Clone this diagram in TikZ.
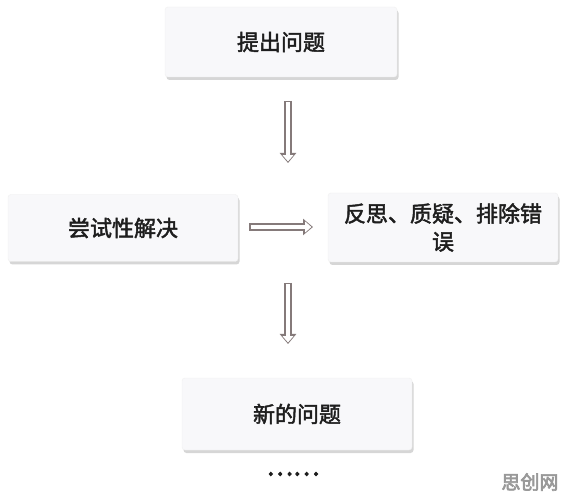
\documentclass[tikz,border=0pt]{standalone}
\usepackage{fontspec}
\newfontfamily\cjk{Noto Sans CJK SC}[FakeBold=2]
\newfontfamily\cjkwm{Noto Sans CJK SC}[FakeBold=3.5]
\usetikzlibrary{shadows,arrows.meta}
\definecolor{boxfill}{HTML}{F8F8FA}
\definecolor{arrowcol}{HTML}{857A7A}
\definecolor{txt}{HTML}{1E1E1E}
\tikzset{
  stepbox/.style={rectangle, rounded corners=3pt, fill=boxfill, draw=black!6,
    drop shadow={shadow xshift=1.5pt, shadow yshift=-3pt, fill=black!35, opacity=0.45},
    font=\cjk\fontsize{22}{28}\selectfont, text=txt, align=center, inner sep=0pt},
  arrowouter/.style={draw=arrowcol, fill=arrowcol, line width=7.5pt,
    -{Triangle[length=10pt, width=16pt]}},
  arrowinner/.style={draw=white, fill=white, line width=4.5pt, shorten <=1.5pt, shorten >=1.6pt,
    -{Triangle[length=6.2pt, width=10.5pt]}},
}
\begin{document}
\begin{tikzpicture}[x=1pt,y=-1pt]
\useasboundingbox[fill=white] (0,0) rectangle (570,502);
\node[stepbox, minimum width=232pt, minimum height=70pt] (b1) at (281,42) {提出问题};
\node[stepbox, minimum width=230pt, minimum height=67pt] (b2) at (123,228) {尝试性解决};
\node[stepbox, minimum width=230pt, minimum height=69pt] (b3) at (443,227.5) {反思、质疑、排除错\\误};
\node[stepbox, minimum width=230pt, minimum height=72pt] (b4) at (297,414) {新的问题};
\coordinate (a1s) at (288,101);
\coordinate (a1e) at (288,163);
\coordinate (a2s) at (288,283);
\coordinate (a2e) at (288,344);
\coordinate (a3s) at (249,227);
\coordinate (a3e) at (313,227);
\foreach \s/\e in {a1s/a1e, a2s/a2e, a3s/a3e}{
  \draw[arrowouter] (\s) -- (\e);
  \draw[arrowinner] (\s) -- (\e);
}
\node[font=\cjkwm\fontsize{25}{25}\selectfont, text=txt] (dots) at (293,474) {……};
\node[font=\cjkwm\fontsize{19}{19}\selectfont, text=black!40, anchor=east] (wm) at (562,482) {思创网};
\end{tikzpicture}
\end{document}
